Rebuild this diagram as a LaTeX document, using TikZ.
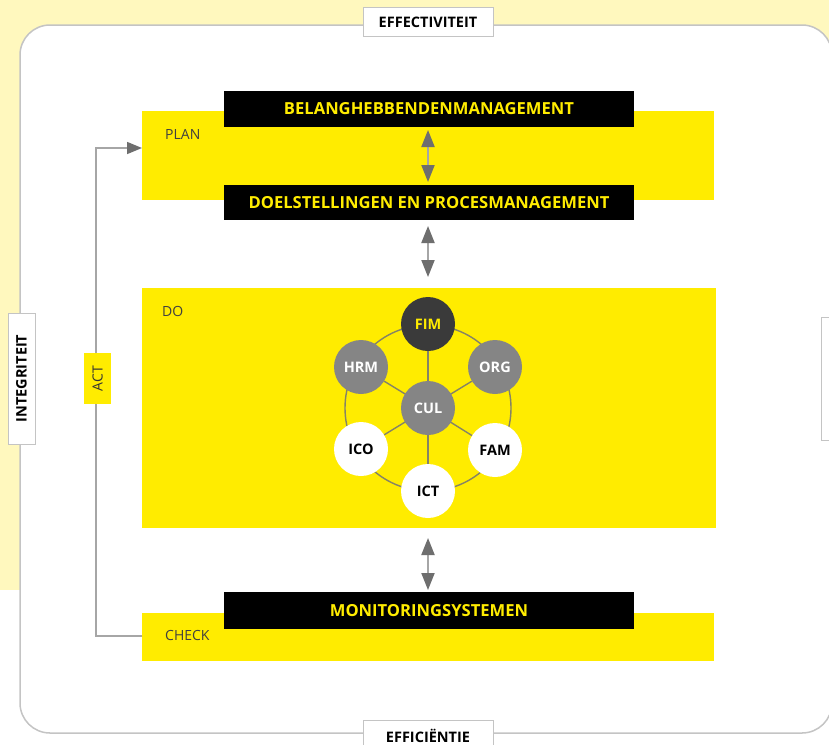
\documentclass[tikz,border=0pt]{standalone}
\usepackage{fontspec}
\setmainfont{Open Sans}
\usetikzlibrary{arrows.meta}
\definecolor{paleyel}{HTML}{FFF8BE}
\definecolor{yel}{HTML}{FFEC00}
\definecolor{frame}{HTML}{C4C4C4}
\definecolor{arrgray}{HTML}{6E6E6E}
\definecolor{ringc}{HTML}{858366}
\definecolor{darkc}{HTML}{3A3A3A}
\definecolor{midc}{HTML}{858585}
\begin{document}
\begin{tikzpicture}[x=1pt,y=-1pt,
  lbl/.style={draw=frame,line width=1pt,fill=white,font=\bfseries\fontsize{14.5}{16}\selectfont,inner sep=0pt},
  bar/.style={fill=black,draw=none,text=yel,font=\bfseries\fontsize{16.6}{18}\selectfont,inner sep=0pt},
  phase/.style={font=\fontsize{14}{16}\selectfont,text=black!75,anchor=west,inner sep=0pt},
  dbl/.style={draw=black!35,line width=2pt,{Triangle[length=17pt,width=13pt,color=arrgray]}-{Triangle[length=17pt,width=13pt,color=arrgray]}},
  bub/.style={circle,minimum size=54pt,inner sep=0pt,font=\bfseries\fontsize{14.5}{16}\selectfont},
  ring/.style={draw=ringc,line width=1.4pt}]
\useasboundingbox (0,0) rectangle (829,744);
\fill[paleyel] (0,0) rectangle (829,590);
\fill[white,draw=frame,line width=1.5pt,rounded corners=30pt] (20,25) rectangle (832,733);
% side labels
\node[lbl,minimum width=130pt,minimum height=29pt] (eff) at (428,22) {EFFECTIVITEIT};
\node[lbl,minimum width=130pt,minimum height=30pt,anchor=north] (effi) at (428,720) {\raisebox{-1pt}{EFFICIËNTIE}};
\node[lbl,minimum width=131pt,minimum height=27pt,rotate=90] (integ) at (21.5,378.5) {INTEGRITEIT};
\node[lbl,minimum width=123pt,minimum height=27pt,rotate=90] (right) at (835,378.5) {};
% yellow phase boxes
\fill[yel] (142,111) rectangle (714,200);
\fill[yel] (142,288) rectangle (716,528);
\fill[yel] (142,613) rectangle (714,661);
\node[phase] (plan) at (165,134) {PLAN};
\node[phase] (do) at (162,311) {DO};
\node[phase] (check) at (165,635) {CHECK};
% black bars
\node[bar,minimum width=410pt,minimum height=36pt] (bel) at (429,109) {\raisebox{-1.5pt}{BELANGHEBBENDENMANAGEMENT}};
\node[bar,minimum width=410pt,minimum height=35pt] (doel) at (429,202.5) {\raisebox{-1.5pt}{DOELSTELLINGEN EN PROCESMANAGEMENT}};
\node[bar,minimum width=410pt,minimum height=37pt] (mon) at (429,610.5) {\raisebox{-1.5pt}{MONITORINGSYSTEMEN}};
% arrows
\coordinate (a1) at (428,130); \coordinate (a2) at (428,182);
\coordinate (b1) at (428,226); \coordinate (b2) at (428,277);
\coordinate (c1) at (428,538); \coordinate (c2) at (428,590);
\draw[dbl] (a1) -- (a2);
\draw[dbl] (b1) -- (b2);
\draw[dbl] (c1) -- (c2);
% ACT loop
\coordinate (actb) at (142,636);
\coordinate (actt) at (142,148);
\draw[black!35,line width=1.5pt,-{Triangle[length=15pt,width=12pt,color=arrgray]}] (actb) -- (96,636) -- (96,148) -- (actt);
\node[fill=yel,minimum width=51pt,minimum height=27pt,inner sep=0pt,rotate=90,font=\fontsize{14}{16}\selectfont,text=black!80] (act) at (97.5,378.5) {ACT};
% hexagon of circles
\coordinate (ctr) at (428,408);
\draw[ring] (ctr) circle[radius=83pt];
\node[bub,fill=darkc,text=yel] (fim) at (428,324) {FIM};
\node[bub,fill=midc,text=white] (hrm) at (361,367) {HRM};
\node[bub,fill=midc,text=white] (org) at (495,367) {ORG};
\node[bub,fill=white,text=black] (ico) at (361,449) {ICO};
\node[bub,fill=white,text=black] (fam) at (495,450) {FAM};
\node[bub,fill=white,text=black] (ict) at (428,491) {ICT};
\foreach \n in {fim,hrm,org,ico,fam,ict}{\draw[ring] (ctr) -- (\n);}
\node[bub,fill=midc,text=white] (cul) at (ctr) {CUL};
\end{tikzpicture}
\end{document}
